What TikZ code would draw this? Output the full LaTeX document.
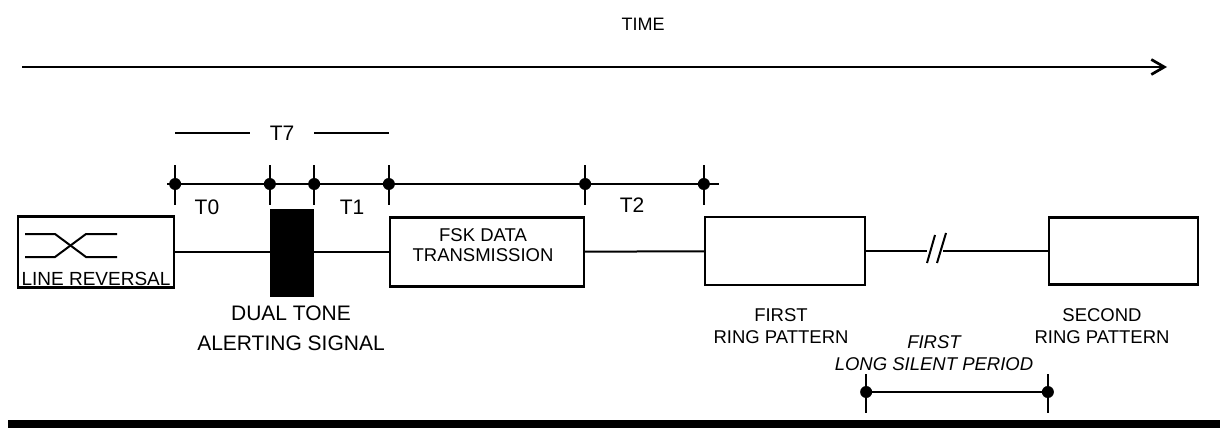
\documentclass[tikz,border=0pt]{standalone}
\usepackage{fontspec}
\setmainfont{Liberation Sans}
\usetikzlibrary{arrows.meta}

\begin{document}
\begin{tikzpicture}[x=0.5pt,y=-0.5pt,line width=1pt,
  box/.style={draw,line width=1.15pt,inner sep=0pt},
  txt/.style={font=\fontsize{9.25}{11}\selectfont,align=center,inner sep=0pt,anchor=north},
  tlbl/.style={font=\fontsize{10.5}{12}\selectfont}]
\useasboundingbox (0,0) rectangle (1220,428);
\node[font=\fontsize{9}{11}\selectfont] (time) at (643,24) {TIME};
\coordinate (tA) at (22,67);
\coordinate (tB) at (1167,67);
\draw[line width=1.35pt,-{Straight Barb[length=6.5pt,width=7.5pt]}] (tA) -- (tB);
\node[box,minimum width=78pt,minimum height=35.5pt,
  label={[font=\fontsize{9.5}{11}\selectfont,anchor=south,inner sep=0.8pt]south:LINE REVERSAL}] (rev) at (96,252) {};
\draw ([shift={(-71,-18)}]rev.center) -- ++(30,0) -- ++(31,23) -- ++(31,0);
\draw ([shift={(-71,5)}]rev.center) -- ++(30,0) -- ++(31,-23) -- ++(31,0);
\node[box,fill=black,minimum width=21pt,minimum height=43pt] (tone) at (292,253) {};
\node[box,minimum width=97pt,minimum height=34.5pt,
  label={[font=\fontsize{9.25}{10}\selectfont,align=center,anchor=north,xshift=-2pt,yshift=-2.5pt]north:FSK DATA\\TRANSMISSION}] (fsk) at (487,252) {};
\node[box,minimum width=80pt,minimum height=34pt] (ring1) at (785,251) {};
\node[box,minimum width=74.5pt,minimum height=33.5pt] (ring2) at (1123.5,251) {};
\coordinate (brkA) at (927,251);
\coordinate (brkB) at (943,251);
\draw (rev.east) -- (rev.east -| tone.west);
\draw (tone.east |- fsk.west) -- (fsk.west);
\draw (fsk) -- (ring1);
\draw (ring1) -- (brkA);
\draw (brkB) -- (ring2);
\draw (927,263) -- (935,235);
\draw (937,263) -- (946,233);
\node[tlbl,inner xsep=9.5pt] (t7) at (282,133) {T7};
\draw (rev.east |- t7) -- (t7.west);
\draw (t7.east) -- (fsk.west |- t7);
\coordinate (lnA) at (167,184);
\coordinate (lnB) at (719,184);
\draw (lnA) -- (lnB);
\foreach \p in {rev.east,tone.west,tone.east,fsk.west,fsk.east,ring1.west} {
  \draw (\p |- lnA) ++(0,-19) -- ++(0,40);
  \fill (\p |- lnA) circle (3pt);
}
\node[tlbl] (t0) at (207,207) {T0};
\node[tlbl] (t1) at (352,207) {T1};
\node[tlbl] (t2) at (632,205) {T2};
\node[txt,font=\fontsize{10.5}{15}\selectfont] (tonetxt) at (291,305) {DUAL TONE\\ALERTING SIGNAL};
\node[txt] (ring1txt) at (781,307.5) {FIRST\\RING PATTERN};
\node[txt] (ring2txt) at (1102,307.5) {SECOND\\RING PATTERN};
\node[txt,font=\fontsize{9.25}{11}\selectfont\itshape] (silent) at (934,334.5) {FIRST\\LONG SILENT PERIOD};
\coordinate (slA) at (ring1.east |- 0,392);
\coordinate (slB) at (ring2.west |- 0,392);
\draw (slA) -- (slB);
\foreach \p in {slA,slB} {
  \draw (\p) ++(0,-18) -- ++(0,39);
  \fill (\p) circle (3pt);
}
\fill (8,419.5) rectangle (1220,428);
\end{tikzpicture}
\end{document}
